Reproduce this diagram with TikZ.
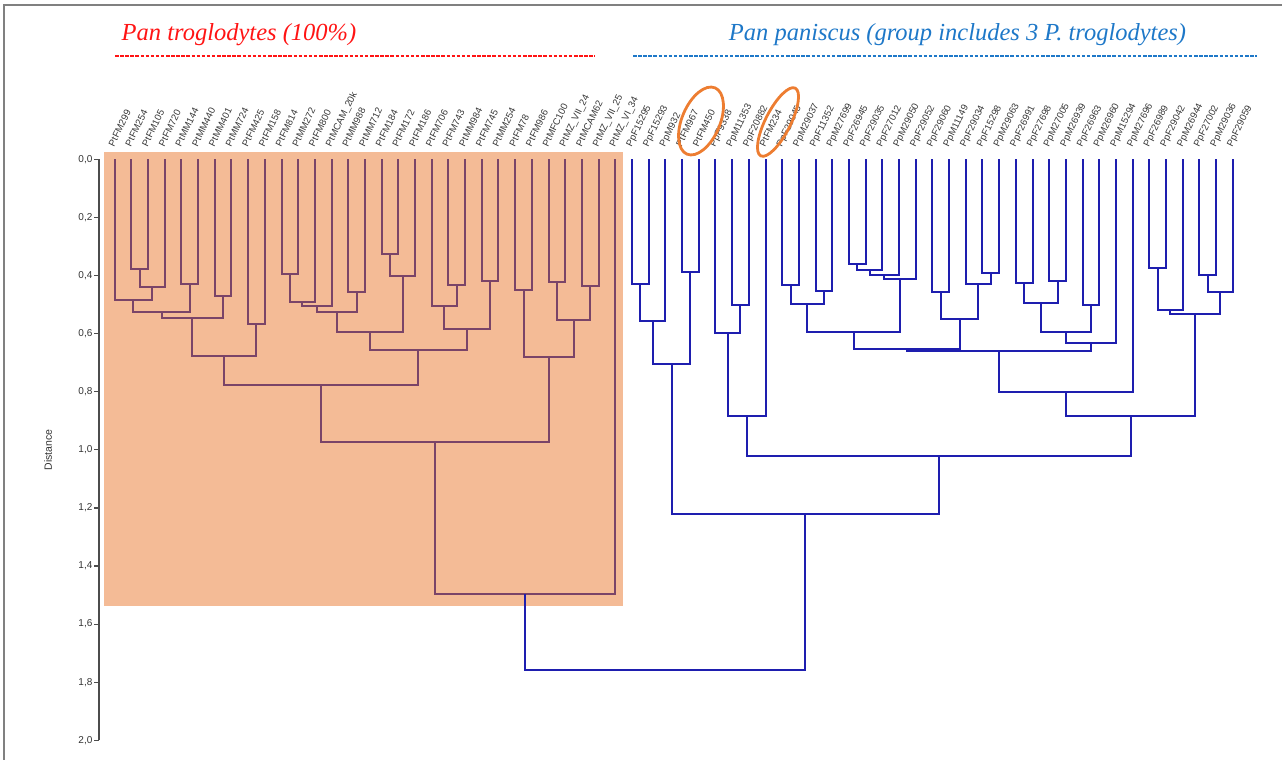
\documentclass[tikz,border=0pt]{standalone}
\usepackage{fontspec}
\setmainfont{Liberation Serif}
\newfontfamily\arialf{Liberation Sans}
\usetikzlibrary{calc}
\definecolor{shadebox}{RGB}{244,187,150}
\definecolor{ptline}{RGB}{122,68,104}
\definecolor{ppline}{RGB}{30,30,175}
\definecolor{titlered}{RGB}{255,20,20}
\definecolor{titleblue}{RGB}{30,120,200}
\definecolor{circ}{RGB}{237,125,49}
\definecolor{labgray}{RGB}{55,55,55}
\definecolor{framegray}{RGB}{128,128,128}
\newcommand{\mrg}[5]{%
  \path let \p1=(#2), \p2=(#3) in ({0.5*\x1+0.5*\x2},{-159.3pt-290.5pt*#4}) coordinate (#1);
  \draw[#5] (#2) |- (#1) -| (#3);}
\begin{document}
\begin{tikzpicture}[x=1pt,y=1pt,
  leaflab/.style={font=\arialf\fontsize{9.6}{9.6}\selectfont, text=labgray, rotate=64, anchor=base west, inner sep=0pt},
  ptlink/.style={draw=ptline, line width=2pt},
  pplink/.style={draw=ppline, line width=2pt},
  axisline/.style={draw=black!70, line width=1.2pt},
  axislab/.style={font=\arialf\fontsize{10}{10}\selectfont, text=black!80, anchor=east, inner sep=1pt},
  titletext/.style={font=\itshape\fontsize{24.5}{24.5}\selectfont, anchor=base, inner sep=0pt},
  dashrule/.style={line width=1.6pt, dash pattern=on 3.5pt off 1.6pt},
  ring/.style={draw=circ, line width=2.8pt}]
\useasboundingbox (0,0) rectangle (1282,-760);
% frame
\draw[framegray, line width=2pt] (1282,-5.5) -- (4,-5.5) -- (4,-760);
% shaded box
\fill[shadebox] (104,-152) rectangle (623,-605.5);
% leaves
\foreach \i in {0,...,67} \coordinate (L\i) at ({114.6+16.69*\i},-159.3);
% left tree
\mrg{A}{L1}{L2}{0.378}{ptlink}
\mrg{B}{A}{L3}{0.438}{ptlink}
\mrg{C}{L0}{B}{0.484}{ptlink}
\mrg{D}{L4}{L5}{0.428}{ptlink}
\mrg{E}{C}{D}{0.527}{ptlink}
\mrg{F}{L6}{L7}{0.469}{ptlink}
\mrg{G}{E}{F}{0.545}{ptlink}
\mrg{H}{L8}{L9}{0.566}{ptlink}
\mrg{I}{G}{H}{0.676}{ptlink}
\mrg{J}{L10}{L11}{0.396}{ptlink}
\mrg{K}{J}{L12}{0.492}{ptlink}
\mrg{Lm}{K}{L13}{0.505}{ptlink}
\mrg{M}{L14}{L15}{0.456}{ptlink}
\mrg{N}{Lm}{M}{0.527}{ptlink}
\mrg{O}{L16}{L17}{0.327}{ptlink}
\mrg{P}{O}{L18}{0.403}{ptlink}
\mrg{Q}{N}{P}{0.595}{ptlink}
\mrg{R}{L20}{L21}{0.434}{ptlink}
\mrg{S}{L19}{R}{0.504}{ptlink}
\mrg{T}{L22}{L23}{0.419}{ptlink}
\mrg{U}{S}{T}{0.583}{ptlink}
\mrg{V}{Q}{U}{0.658}{ptlink}
\mrg{W}{I}{V}{0.777}{ptlink}
\mrg{X}{L24}{L25}{0.449}{ptlink}
\mrg{Y}{L26}{L27}{0.421}{ptlink}
\mrg{Z}{L28}{L29}{0.437}{ptlink}
\mrg{AA}{Y}{Z}{0.552}{ptlink}
\mrg{AB}{X}{AA}{0.682}{ptlink}
\mrg{AC}{W}{AB}{0.972}{ptlink}
\mrg{AD}{AC}{L30}{1.497}{ptlink}
% right tree
\mrg{ra}{L31}{L32}{0.428}{pplink}
\mrg{rb}{ra}{L33}{0.556}{pplink}
\mrg{rc}{L34}{L35}{0.389}{pplink}
\mrg{rd}{rb}{rc}{0.706}{pplink}
\mrg{re}{L37}{L38}{0.502}{pplink}
\mrg{rf}{L36}{re}{0.597}{pplink}
\mrg{rg}{rf}{L39}{0.884}{pplink}
\mrg{rh}{L40}{L41}{0.433}{pplink}
\mrg{ri}{L42}{L43}{0.452}{pplink}
\mrg{rj}{rh}{ri}{0.498}{pplink}
\mrg{rk}{L44}{L45}{0.360}{pplink}
\mrg{rl}{rk}{L46}{0.380}{pplink}
\mrg{rm}{rl}{L47}{0.398}{pplink}
\mrg{rn}{rm}{L48}{0.413}{pplink}
\mrg{ro}{rj}{rn}{0.595}{pplink}
\mrg{rp}{L49}{L50}{0.457}{pplink}
\mrg{rq}{L52}{L53}{0.390}{pplink}
\mrg{rr}{L51}{rq}{0.429}{pplink}
\mrg{rs}{rp}{rr}{0.551}{pplink}
\mrg{rt}{L54}{L55}{0.425}{pplink}
\mrg{ru}{L56}{L57}{0.420}{pplink}
\mrg{rv}{rt}{ru}{0.495}{pplink}
\mrg{rw}{L58}{L59}{0.502}{pplink}
\mrg{rx}{rv}{rw}{0.594}{pplink}
\mrg{ry}{rx}{L60}{0.632}{pplink}
\mrg{rz}{ro}{rs}{0.654}{pplink}
\mrg{raa}{rz}{ry}{0.660}{pplink}
\mrg{rbb}{raa}{L61}{0.802}{pplink}
\mrg{rcc}{L62}{L63}{0.374}{pplink}
\mrg{rdd}{L65}{L66}{0.398}{pplink}
\mrg{ree}{rdd}{L67}{0.456}{pplink}
\mrg{rff}{rcc}{L64}{0.520}{pplink}
\mrg{rgg}{rff}{ree}{0.532}{pplink}
\mrg{rhh}{rbb}{rgg}{0.884}{pplink}
\mrg{rii}{rg}{rhh}{1.022}{pplink}
\mrg{rjj}{rd}{rii}{1.221}{pplink}
\mrg{root}{AD}{rjj}{1.758}{pplink}
% leaf labels
\foreach \t [count=\i from 0] in {PtFM299,PtFM254,PtFM105,PtFM720,PtMM144,PtMM440,PtMM401,PtMM724,PtFM425,PtFM158,PtFM814,PtMM272,PtFM800,PtMCAM\_20k,PtMM988,PtMM712,PtFM184,PtFM172,PtFM186,PtFM706,PtFM743,PtMM984,PtFM745,PtMM254,PtFM78,PtFM986,PtMFC100,PtMZ\_VII\_24,PtMCAM62,PtMZ\_VII\_25,PtMZ\_VI\_34,PpF15295,PpF15293,PpM932,PtFM967,PtFM450,PpF9338,PpM11353,PpF20882,PtFM234,PpF29045,PpM29037,PpF11352,PpM27699,PpF26945,PpF29035,PpF27012,PpM29050,PpF29052,PpF29060,PpM11149,PpF29034,PpF15298,PpM29063,PpF26991,PpF27698,PpM27005,PpM26939,PpF26963,PpM26960,PpM15294,PpM27696,PpF26989,PpF29042,PpM26944,PpF27002,PpM29036,PpF29059}
  \node[leaflab] (lab\i) at ($(L\i)+(-0.5,12)$) {\t};
% y axis
\coordinate (ax0) at (99,-159.3);
\coordinate (ax1) at (99,-740.3);
\draw[axisline] (ax0) -- (ax1);
\foreach \a/\b [count=\k from 0] in {0/0,0/2,0/4,0/6,0/8,1/0,1/2,1/4,1/6,1/8,2/0} {
  \coordinate (tk\k) at (99,{-159.3-58.1*\k});
  \draw[axisline] (tk\k) -- ++(-5,0) node[axislab] (yl\k) {\a,\b};
}
\node[font=\arialf\fontsize{10.5}{10.5}\selectfont, text=black!80, rotate=90] (dist) at (48,-450) {Distance};
% rings
\draw[ring, rotate around={67:(701,-121)}] (701,-121) ellipse (36 and 19);
\draw[ring, rotate around={63:(778,-122)}] (778,-122) ellipse (38 and 12.5);
% titles
\node[titletext, text=titlered] (t1) at (239,-40.5) {Pan troglodytes (100\%)};
\node[titletext, text=titleblue] (t2) at (957.5,-40.5) {Pan paniscus (group includes 3 P. troglodytes)};
\coordinate (r1) at (115,-56); \coordinate (r2) at (595,-56);
\coordinate (b1) at (633,-56); \coordinate (b2) at (1257,-56);
\draw[dashrule, titlered] (r1) -- (r2);
\draw[dashrule, titleblue] (b1) -- (b2);
\end{tikzpicture}
\end{document}
